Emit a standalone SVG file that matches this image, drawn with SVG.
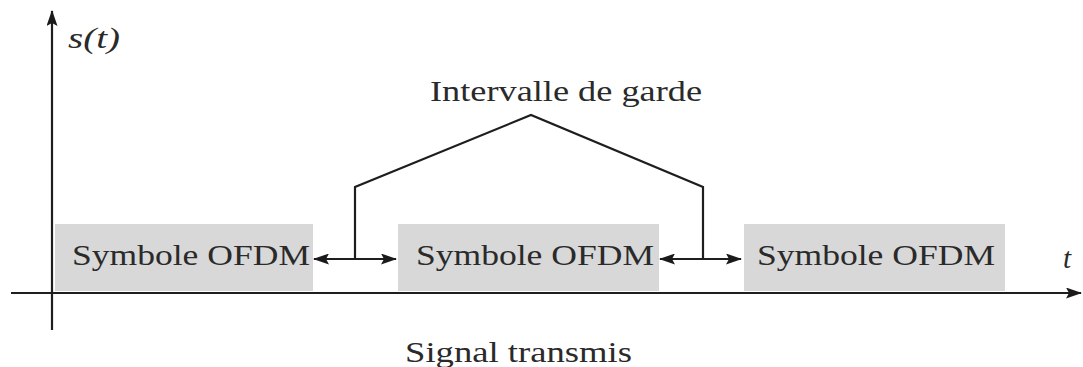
<svg xmlns="http://www.w3.org/2000/svg" width="1083" height="367" viewBox="0 0 1083 367">
<style>
.lbl{font-family:"Liberation Serif","DejaVu Serif",serif;font-size:29px;fill:#2a2a2a}
.box{fill:#d8d8d8}
.ln{stroke:#1e1e1e;stroke-width:2.2;fill:none}
</style>
<defs>
<marker id="ah" viewBox="0 0 16 11" refX="15" refY="5.5" markerWidth="16" markerHeight="11" markerUnits="userSpaceOnUse" orient="auto-start-reverse">
<path d="M0,0 L16,5.5 L0,11 L3,5.5 Z" fill="#1a1a1a"/>
</marker>
</defs>
<rect width="1083" height="367" fill="#fff"/>
<g id="axes">
<line class="ln" x1="52" y1="330" x2="52" y2="11" marker-end="url(#ah)"/>
<line class="ln" x1="11" y1="293" x2="1081" y2="293" marker-end="url(#ah)"/>
<text class="lbl" x="68" y="48" font-style="italic" textLength="52" lengthAdjust="spacingAndGlyphs">s(t)</text>
<text class="lbl" x="1063" y="268" font-style="italic">t</text>
</g>
<g id="sym1">
<rect class="box" x="55" y="224" width="258" height="67"/>
<text class="lbl" x="72" y="265" textLength="238" lengthAdjust="spacingAndGlyphs">Symbole OFDM</text>
</g>
<g id="sym2">
<rect class="box" x="398" y="224" width="261" height="67"/>
<text class="lbl" x="416" y="265" textLength="238" lengthAdjust="spacingAndGlyphs">Symbole OFDM</text>
</g>
<g id="sym3">
<rect class="box" x="744" y="224" width="261" height="67"/>
<text class="lbl" x="757" y="265" textLength="238" lengthAdjust="spacingAndGlyphs">Symbole OFDM</text>
</g>
<g id="guard-label">
<text class="lbl" x="430" y="101" textLength="272" lengthAdjust="spacingAndGlyphs">Intervalle de garde</text>
</g>
<g id="connectors">
<line class="ln" x1="314" y1="259" x2="396" y2="259" marker-start="url(#ah)" marker-end="url(#ah)"/>
<line class="ln" x1="660" y1="259" x2="741" y2="259" marker-start="url(#ah)" marker-end="url(#ah)"/>
<polyline class="ln" points="355,259 355,187 531,115 703,187 703,259"/>
</g>
<g id="caption">
<text class="lbl" x="405" y="362" textLength="227" lengthAdjust="spacingAndGlyphs">Signal transmis</text>
</g>
</svg>
